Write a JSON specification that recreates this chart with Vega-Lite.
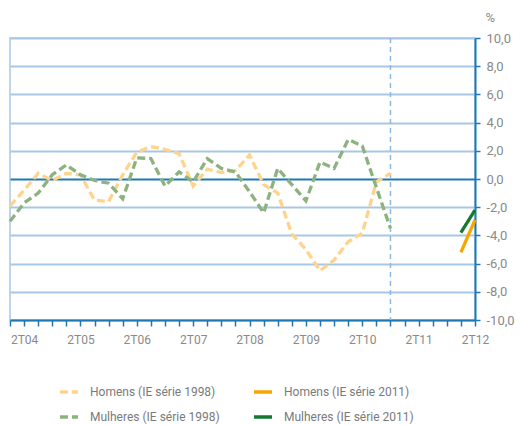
{
  "$schema": "https://vega.github.io/schema/vega-lite/v6.json",
  "width": 465,
  "height": 282,
  "autosize": {"type": "none"},
  "padding": {"left": 10, "top": 38, "right": 45, "bottom": 105},
  "background": "white",
  "config": {
    "font": "Roboto",
    "view": {"stroke": "#A7C7E4", "strokeWidth": 1.5},
    "legend": {
      "orient": "none",
      "legendX": 48,
      "legendY": 343,
      "columns": 2,
      "columnPadding": 27,
      "rowPadding": 7,
      "symbolType": "stroke",
      "symbolSize": 324,
      "symbolStrokeWidth": 3.5,
      "labelFontSize": 12,
      "labelColor": "#7a7a7a",
      "labelOffset": 10,
      "labelLimit": 300
    }
  },
  "datasets": {
    "series": [
      {"q": "1T04", "serie": "Homens (IE série 1998)", "v": -1.9},
      {"q": "2T04", "serie": "Homens (IE série 1998)", "v": -0.8},
      {"q": "3T04", "serie": "Homens (IE série 1998)", "v": 0.4},
      {"q": "4T04", "serie": "Homens (IE série 1998)", "v": -0.1},
      {"q": "1T05", "serie": "Homens (IE série 1998)", "v": 0.4},
      {"q": "2T05", "serie": "Homens (IE série 1998)", "v": 0.3},
      {"q": "3T05", "serie": "Homens (IE série 1998)", "v": -1.5},
      {"q": "4T05", "serie": "Homens (IE série 1998)", "v": -1.6},
      {"q": "1T06", "serie": "Homens (IE série 1998)", "v": 0.3},
      {"q": "2T06", "serie": "Homens (IE série 1998)", "v": 1.9},
      {"q": "3T06", "serie": "Homens (IE série 1998)", "v": 2.3},
      {"q": "4T06", "serie": "Homens (IE série 1998)", "v": 2.1},
      {"q": "1T07", "serie": "Homens (IE série 1998)", "v": 1.8},
      {"q": "2T07", "serie": "Homens (IE série 1998)", "v": -0.5},
      {"q": "3T07", "serie": "Homens (IE série 1998)", "v": 0.7},
      {"q": "4T07", "serie": "Homens (IE série 1998)", "v": 0.45},
      {"q": "1T08", "serie": "Homens (IE série 1998)", "v": 0.6},
      {"q": "2T08", "serie": "Homens (IE série 1998)", "v": 1.7},
      {"q": "3T08", "serie": "Homens (IE série 1998)", "v": -0.4},
      {"q": "4T08", "serie": "Homens (IE série 1998)", "v": -1.0},
      {"q": "1T09", "serie": "Homens (IE série 1998)", "v": -3.9},
      {"q": "2T09", "serie": "Homens (IE série 1998)", "v": -5.0},
      {"q": "3T09", "serie": "Homens (IE série 1998)", "v": -6.5},
      {"q": "4T09", "serie": "Homens (IE série 1998)", "v": -5.75},
      {"q": "1T10", "serie": "Homens (IE série 1998)", "v": -4.45},
      {"q": "2T10", "serie": "Homens (IE série 1998)", "v": -3.85},
      {"q": "3T10", "serie": "Homens (IE série 1998)", "v": -0.2},
      {"q": "4T10", "serie": "Homens (IE série 1998)", "v": 0.4},
      {"q": "1T04", "serie": "Mulheres (IE série 1998)", "v": -3.0},
      {"q": "2T04", "serie": "Mulheres (IE série 1998)", "v": -1.7},
      {"q": "3T04", "serie": "Mulheres (IE série 1998)", "v": -1.0},
      {"q": "4T04", "serie": "Mulheres (IE série 1998)", "v": 0.3},
      {"q": "1T05", "serie": "Mulheres (IE série 1998)", "v": 1.0},
      {"q": "2T05", "serie": "Mulheres (IE série 1998)", "v": 0.3},
      {"q": "3T05", "serie": "Mulheres (IE série 1998)", "v": -0.1},
      {"q": "4T05", "serie": "Mulheres (IE série 1998)", "v": -0.3},
      {"q": "1T06", "serie": "Mulheres (IE série 1998)", "v": -1.4},
      {"q": "2T06", "serie": "Mulheres (IE série 1998)", "v": 1.5},
      {"q": "3T06", "serie": "Mulheres (IE série 1998)", "v": 1.45},
      {"q": "4T06", "serie": "Mulheres (IE série 1998)", "v": -0.5},
      {"q": "1T07", "serie": "Mulheres (IE série 1998)", "v": 0.5},
      {"q": "2T07", "serie": "Mulheres (IE série 1998)", "v": -0.2},
      {"q": "3T07", "serie": "Mulheres (IE série 1998)", "v": 1.45},
      {"q": "4T07", "serie": "Mulheres (IE série 1998)", "v": 0.75},
      {"q": "1T08", "serie": "Mulheres (IE série 1998)", "v": 0.5},
      {"q": "2T08", "serie": "Mulheres (IE série 1998)", "v": -0.9},
      {"q": "3T08", "serie": "Mulheres (IE série 1998)", "v": -2.4},
      {"q": "4T08", "serie": "Mulheres (IE série 1998)", "v": 0.75},
      {"q": "1T09", "serie": "Mulheres (IE série 1998)", "v": -0.4},
      {"q": "2T09", "serie": "Mulheres (IE série 1998)", "v": -1.55},
      {"q": "3T09", "serie": "Mulheres (IE série 1998)", "v": 1.2},
      {"q": "4T09", "serie": "Mulheres (IE série 1998)", "v": 0.75},
      {"q": "1T10", "serie": "Mulheres (IE série 1998)", "v": 2.8},
      {"q": "2T10", "serie": "Mulheres (IE série 1998)", "v": 2.35},
      {"q": "3T10", "serie": "Mulheres (IE série 1998)", "v": -0.6},
      {"q": "4T10", "serie": "Mulheres (IE série 1998)", "v": -3.5},
      {"q": "1T12", "serie": "Homens (IE série 2011)", "v": -5.2},
      {"q": "2T12", "serie": "Homens (IE série 2011)", "v": -2.9},
      {"q": "1T12", "serie": "Mulheres (IE série 2011)", "v": -3.8},
      {"q": "2T12", "serie": "Mulheres (IE série 2011)", "v": -2.2}
    ],
    "divider": [{"q": "4T10"}]
  },
  "encoding": {
    "x": {
      "field": "q",
      "type": "ordinal",
      "scale": {
        "type": "point",
        "padding": 0,
        "domain": ["1T04","2T04","3T04","4T04","1T05","2T05","3T05","4T05","1T06","2T06","3T06","4T06","1T07","2T07","3T07","4T07","1T08","2T08","3T08","4T08","1T09","2T09","3T09","4T09","1T10","2T10","3T10","4T10","1T11","2T11","3T11","4T11","1T12","2T12"]
      },
      "axis": {
        "title": null,
        "orient": "bottom",
        "grid": false,
        "domainColor": "#1F78B4",
        "domainWidth": 2,
        "tickColor": "#1F78B4",
        "tickWidth": 1.5,
        "tickSize": 6,
        "labelExpr": "substring(datum.label, 0, 2) === '2T' ? datum.label : ''",
        "labelAngle": 0,
        "labelOverlap": false,
        "labelColor": "#8a8a8a",
        "labelFontSize": 12,
        "labelPadding": 8
      }
    }
  },
  "layer": [
    {
      "data": {"name": "divider"},
      "mark": {"type": "rule", "color": "#8DB9DF", "strokeDash": [5, 4], "strokeWidth": 1.5}
    },
    {
      "data": {"name": "series"},
      "mark": {"type": "line", "strokeWidth": 3.3, "strokeCap": "butt"},
      "encoding": {
        "y": {
          "field": "v",
          "type": "quantitative",
          "scale": {"domain": [-10, 10], "nice": false},
          "axis": {
            "title": "%",
            "orient": "right",
            "values": [-10, -8, -6, -4, -2, 0, 2, 4, 6, 8, 10],
            "labelExpr": "replace(replace(format(datum.value, '.1f'), '.', ','), '−', '-')",
            "grid": true,
            "gridColor": {"condition": {"test": "datum.value === 0", "value": "#1F78B4"}, "value": "#A7C7E4"},
            "gridWidth": 2,
            "domainColor": "#1F78B4",
            "domainWidth": 2,
            "tickColor": "#1F78B4",
            "tickWidth": 1.5,
            "tickSize": 5,
            "labelColor": "#8a8a8a",
            "labelFontSize": 13,
            "labelPadding": 6,
            "titleAngle": 0,
            "titleX": 10,
            "titleY": -17,
            "titleAlign": "left",
            "titleBaseline": "alphabetic",
            "titleColor": "#8a8a8a",
            "titleFontWeight": "normal",
            "titleFontSize": 13
          }
        },
        "color": {
          "field": "serie",
          "type": "nominal",
          "title": null,
          "scale": {
            "domain": ["Homens (IE série 1998)", "Mulheres (IE série 1998)", "Homens (IE série 2011)", "Mulheres (IE série 2011)"],
            "range": ["#FFD38C", "#8CB27F", "#F7A600", "#157A30"]
          }
        },
        "strokeDash": {
          "field": "serie",
          "type": "nominal",
          "title": null,
          "scale": {
            "domain": ["Homens (IE série 1998)", "Mulheres (IE série 1998)", "Homens (IE série 2011)", "Mulheres (IE série 2011)"],
            "range": [[8, 4], [8, 4], [1, 0], [1, 0]]
          }
        }
      }
    }
  ]
}
